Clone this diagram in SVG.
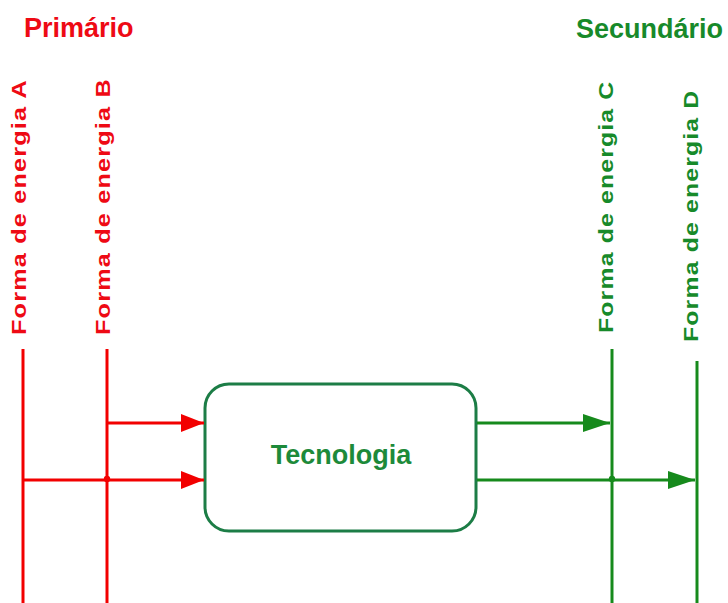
<svg xmlns="http://www.w3.org/2000/svg" width="728" height="603" viewBox="0 0 728 603">
  <style>
    .title { font-family: "Liberation Sans", Arial, sans-serif; font-weight: bold; font-size: 27px; }
    .vlabel { font-family: "Liberation Sans", Arial, sans-serif; font-weight: bold; font-size: 21px; letter-spacing: 1px; }
    .red { fill: #ee0a14; }
    .green { fill: #178a2a; }
    .rline { stroke: #f20000; stroke-width: 3; fill: none; }
    .gline { stroke: #168a1c; stroke-width: 3; fill: none; }
    .node-text { font-family: "Liberation Sans", Arial, sans-serif; font-weight: bold; font-size: 27px; fill: #1d8a3a; }
  </style>
  <defs>
    <marker id="arrowRed" markerUnits="userSpaceOnUse" markerWidth="24" markerHeight="20" refX="23" refY="9" orient="auto">
      <path d="M0,0 L23,9 L0,18 Z" fill="#f20000"/>
    </marker>
    <marker id="arrowGreen" markerUnits="userSpaceOnUse" markerWidth="28" markerHeight="20" refX="27" refY="9" orient="auto">
      <path d="M0,0 L27,9 L0,18 Z" fill="#168a1c"/>
    </marker>
  </defs>

  <rect width="728" height="603" fill="#ffffff"/>

  <!-- section headings -->
  <text class="title red" x="24" y="37">Primário</text>
  <text class="title green" x="576" y="38">Secundário</text>

  <!-- energy carriers (vertical bus lines with labels) -->
  <g id="energy-a">
    <text class="vlabel red" transform="translate(26,335) rotate(-90) scale(1.2,1)">Forma de energia A</text>
    <line class="rline" x1="23" y1="349" x2="23" y2="603"/>
  </g>
  <g id="energy-b">
    <text class="vlabel red" transform="translate(109.5,335) rotate(-90) scale(1.2,1)">Forma de energia B</text>
    <line class="rline" x1="107" y1="349" x2="107" y2="603"/>
  </g>
  <g id="energy-c">
    <text class="vlabel green" transform="translate(613,333) rotate(-90) scale(1.18,1)">Forma de energia C</text>
    <line class="gline" x1="612" y1="349" x2="612" y2="603"/>
  </g>
  <g id="energy-d">
    <text class="vlabel green" transform="translate(698,342) rotate(-90) scale(1.18,1)">Forma de energia D</text>
    <line class="gline" x1="697" y1="361" x2="697" y2="603"/>
  </g>

  <!-- conversion technology -->
  <g id="tecnologia">
    <rect x="205" y="384" width="271" height="147" rx="24" ry="24" fill="#ffffff" stroke="#1c7d46" stroke-width="3"/>
    <text class="node-text" x="341" y="464" text-anchor="middle">Tecnologia</text>
  </g>

  <!-- flows -->
  <g id="connectors">
    <line class="rline" x1="107" y1="423" x2="204" y2="423" marker-end="url(#arrowRed)"/>
    <line class="rline" x1="23" y1="480" x2="204" y2="480" marker-end="url(#arrowRed)"/>
    <circle cx="107" cy="479" r="3.2" fill="#f20000"/>
    <line class="gline" x1="477" y1="423" x2="610" y2="423" marker-end="url(#arrowGreen)"/>
    <line class="gline" x1="477" y1="480" x2="695" y2="480" marker-end="url(#arrowGreen)"/>
    <circle cx="612" cy="479" r="3.2" fill="#168a1c"/>
  </g>
</svg>
